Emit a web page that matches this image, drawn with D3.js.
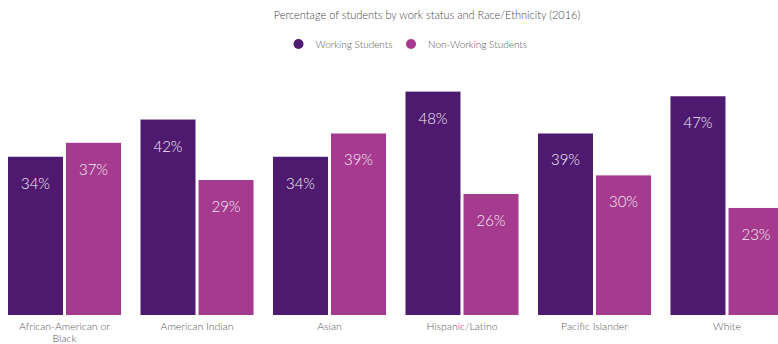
<!DOCTYPE html>
<html>
<head>
<meta charset="utf-8">
<script src="https://cdn.jsdelivr.net/npm/d3@7"></script>
<style>
  body { margin: 0; background: #fff; }
  text { font-family: "Lato", "Open Sans", sans-serif; }
</style>
</head>
<body>
<svg id="chart"></svg>
<script>
var width = 778, height = 344

var categories = ["African-American or Black", "American Indian", "Asian", "Hispanic/Latino", "Pacific Islander", "White"]
var series = ["Working Students", "Non-Working Students"]
var working = [34, 42, 34, 48, 39, 47]
var nonWorking = [37, 29, 39, 26, 30, 23]
var colors = ["#4e1a6f", "#a53a8e"]

var svg = d3.select("svg#chart")
    .attr("width", width)
    .attr("height", height)

var x0 = d3.scaleBand()
    .domain(categories)
    .range([8, 783.5])
    .paddingInner(0.147)
    .paddingOuter(0)

var x1 = d3.scaleBand()
    .domain(series)
    .range([0, x0.bandwidth()])
    .paddingInner(0.052)

var y = d3.scaleLinear()
    .domain([0, 50])
    .range([315, 82.3])

var color = d3.scaleOrdinal().domain(series).range(colors)

var rows = categories.map(function(c, i) {
    return { cat: c, vals: [
        { key: series[0], value: working[i] },
        { key: series[1], value: nonWorking[i] }
    ]}
})

// title
svg.append("text")
    .attr("x", 427)
    .attr("y", 19)
    .attr("text-anchor", "middle")
    .attr("font-size", "11px")
    .attr("font-weight", 300)
    .attr("fill", "#444")
    .text("Percentage of students by work status and Race/Ethnicity (2016)")

// legend
var legendX = [298.5, 411]
var legend = svg.selectAll("g.legend")
    .data(series)
    .enter()
    .append("g")
    .attr("class", "legend")
    .attr("transform", function(d, i) { return "translate(" + legendX[i] + ",44)" })

legend.append("circle")
    .attr("r", 5)
    .attr("fill", function(d) { return color(d) })

legend.append("text")
    .attr("x", 17)
    .attr("y", 3.5)
    .attr("font-size", "10px")
    .attr("font-weight", 300)
    .attr("fill", "#555")
    .text(function(d) { return d })

// bars
var groups = svg.selectAll("g.group")
    .data(rows)
    .enter()
    .append("g")
    .attr("class", "group")
    .attr("transform", function(d) { return "translate(" + x0(d.cat) + ",0)" })

groups.selectAll("rect")
    .data(function(d) { return d.vals })
    .enter()
    .append("rect")
    .attr("x", function(d) { return x1(d.key) })
    .attr("y", function(d) { return y(d.value) })
    .attr("width", x1.bandwidth())
    .attr("height", function(d) { return y(0) - y(d.value) })
    .attr("fill", function(d) { return color(d.key) })

groups.selectAll("text.val")
    .data(function(d) { return d.vals })
    .enter()
    .append("text")
    .attr("class", "val")
    .attr("x", function(d) { return x1(d.key) + x1.bandwidth() / 2 })
    .attr("y", function(d) { return y(d.value) + 32 })
    .attr("text-anchor", "middle")
    .attr("font-size", "15px")
    .attr("font-weight", 300)
    .attr("fill", "#f4eef6")
    .text(function(d) { return d.value + "%" })

// category labels
var xAxis = svg.append("g")
    .attr("transform", "translate(0," + y(0) + ")")
    .call(d3.axisBottom(x0).tickSize(0).tickPadding(0))

xAxis.select(".domain").remove()
xAxis.selectAll(".tick text").remove()

xAxis.selectAll(".tick")
    .append("text")
    .attr("text-anchor", "middle")
    .attr("font-size", "10.5px")
    .attr("font-weight", 300)
    .attr("fill", "#555")
    .each(function(d) {
        var t = d3.select(this)
        var lines = d === "African-American or Black" ? ["African-American or", "Black"] : [d]
        lines.forEach(function(l, i) {
            t.append("tspan").attr("x", 0).attr("y", 15 + i * 11.5).text(l)
        })
    })
</script>
</body>
</html>
